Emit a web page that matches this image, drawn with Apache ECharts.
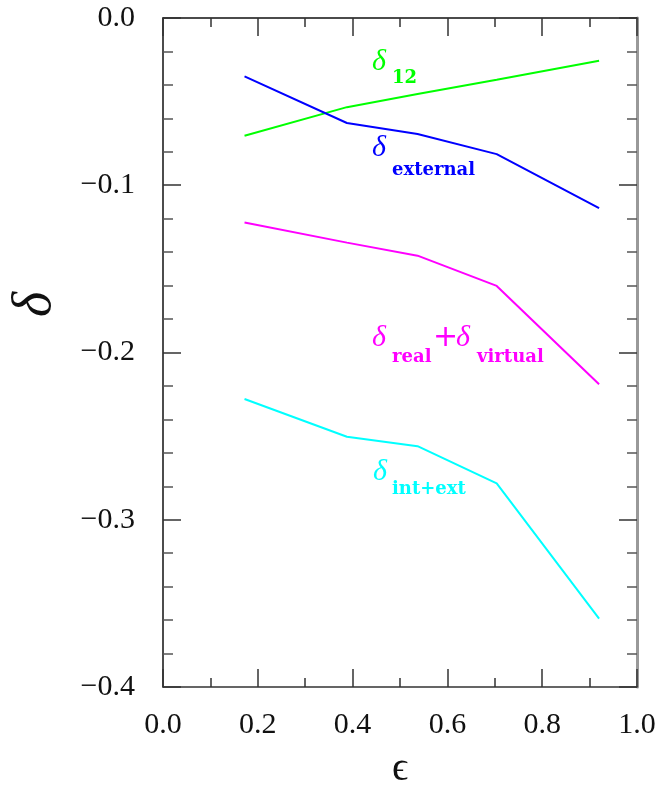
<!DOCTYPE html>
<html>
<head>
<meta charset="utf-8">
<script src="https://cdn.jsdelivr.net/npm/echarts@6/dist/echarts.min.js"></script>
<style>
  html, body { margin: 0; padding: 0; background: #fff; }
  #chart { width: 669px; height: 786px; }
</style>
</head>
<body>
<div id="chart"></div>
<script>
// epsilon sample points shared by every curve
const epsilon = [0.172, 0.388, 0.537, 0.704, 0.920];

// correction curves
const delta12          = [-0.0704, -0.0533, -0.0455, -0.0369, -0.0256];
const deltaExternal    = [-0.0349, -0.0628, -0.0694, -0.0814, -0.1137];
const deltaRealVirtual = [-0.1223, -0.1343, -0.1421, -0.1602, -0.2190];
const deltaIntExt      = [-0.2278, -0.2504, -0.2560, -0.2783, -0.3591];

// tick labels
const xTickValues = [0.0, 0.2, 0.4, 0.6, 0.8, 1.0];
const yTickValues = [0.0, -0.1, -0.2, -0.3, -0.4];

const serif = '"Liberation Serif", "Times New Roman", serif';
const boldSerif = '"DejaVu Serif", serif';

const xStep = xTickValues[1] - xTickValues[0];
const yStep = yTickValues[0] - yTickValues[1];
const xMin = Math.min(...xTickValues), xMax = Math.max(...xTickValues);
const yMin = Math.min(...yTickValues), yMax = Math.max(...yTickValues);

function fmtY(v) {
  if (Math.abs(v) < 1e-9) return '0.0';
  return (v < 0 ? '\u2212' : '') + Math.abs(v).toFixed(1);
}

function xAxis(position, withLabels) {
  return {
    type: 'value', position, min: xMin, max: xMax, interval: xStep,
    name: withLabels ? '\u03F5' : '',
    nameLocation: 'middle', nameGap: 62,
    nameTextStyle: { fontFamily: serif, fontSize: 40, color: '#111' },
    axisLine: { show: true, onZero: false, lineStyle: { color: position === 'bottom' ? '#333' : '#111', width: 1.5 } },
    axisTick: { show: true, inside: true, length: 18, lineStyle: { color: '#333', width: 1.5 } },
    minorTick: { show: true, splitNumber: 2, length: 9, lineStyle: { color: '#333', width: 1.5 } },
    axisLabel: { show: withLabels, margin: 23, fontFamily: serif, fontSize: 30, color: '#111',
                 formatter: v => v.toFixed(1) },
    splitLine: { show: false }, minorSplitLine: { show: false }
  };
}

function yAxis(position, withLabels) {
  return {
    type: 'value', position, min: yMin, max: yMax, interval: yStep,
    name: withLabels ? '\u03B4' : '',
    nameLocation: 'middle', nameRotate: 90, nameGap: 100,
    nameTextStyle: { fontFamily: serif, fontStyle: 'italic', fontSize: 54, color: '#111',
                     padding: [0, 0, 0, 96] },
    axisLine: { show: true, onZero: false,
                lineStyle: position === 'left' ? { color: '#111', width: 1.5 } : { color: '#999', width: 3 } },
    axisTick: { show: true, inside: true, length: 18, lineStyle: { color: '#333', width: 1.5 } },
    minorTick: { show: true, splitNumber: 5, length: 10, lineStyle: { color: '#555', width: 1.5 } },
    axisLabel: { show: withLabels, margin: 28, fontFamily: serif, fontSize: 30, color: '#111',
                 formatter: fmtY },
    splitLine: { show: false }, minorSplitLine: { show: false }
  };
}

function curve(name, values, color) {
  return {
    name, type: 'line', xAxisIndex: 0, yAxisIndex: 0,
    data: epsilon.map((e, i) => [e, values[i]]),
    symbol: 'none', showSymbol: false, silent: true, animation: false,
    lineStyle: { color, width: 2 }
  };
}

const chart = echarts.init(document.getElementById('chart'), null, { renderer: 'canvas' });
chart.setOption({
  animation: false,
  backgroundColor: '#fff',
  grid: { left: 163, top: 18, width: 474, height: 669, containLabel: false, outerBoundsMode: 'none' },
  xAxis: [xAxis('bottom', true), xAxis('top', false)],
  yAxis: [yAxis('left', true), yAxis('right', false)],
  series: [
    curve('\u03B412', delta12, '#00ff00'),
    curve('\u03B4external', deltaExternal, '#0000ff'),
    curve('\u03B4real+\u03B4virtual', deltaRealVirtual, '#ff00ff'),
    curve('\u03B4int+ext', deltaIntExt, '#00ffff')
  ]
});

// Curve annotations: anchor = left edge / baseline of the leading delta, in data units.
// Each part: text, kind, horizontal offset (px) from the anchor.
const fonts = {
  sym: { font: 'italic 30px ' + serif, size: 30 },
  sub: { font: 'bold 18px ' + boldSerif, size: 18 },
  op:  { font: '30px "DejaVu Sans", sans-serif', size: 30 }
};
const curveLabels = [
  { color: '#00ff00', at: [0.441, -0.0327], subDrop: 12,
    parts: [['\u03B4', 'sym', 0], ['12', 'sub', 20]] },
  { color: '#0000ff', at: [0.441, -0.0836], subDrop: 19,
    parts: [['\u03B4', 'sym', 0], ['external', 'sub', 20]] },
  { color: '#ff00ff', at: [0.441, -0.1973], subDrop: 15,
    parts: [['\u03B4', 'sym', 0], ['real', 'sub', 20], ['+', 'op', 61],
            ['\u03B4', 'sym', 84], ['virtual', 'sub', 105]] },
  { color: '#00ffff', at: [0.443, -0.2775], subDrop: 13,
    parts: [['\u03B4', 'sym', 0], ['int+ext', 'sub', 19]] }
];

const graphics = [];
curveLabels.forEach(lab => {
  const p = chart.convertToPixel({ gridIndex: 0 }, lab.at);
  lab.parts.forEach(([text, kind, dx]) => {
    const f = fonts[kind];
    const baseline = p[1] + (kind === 'sub' ? lab.subDrop : 0);
    graphics.push({
      type: 'text', silent: true,
      x: p[0] + dx, y: baseline - 0.34 * f.size,
      style: { text, font: f.font, fill: lab.color, align: 'left', verticalAlign: 'middle' }
    });
  });
});
chart.setOption({ graphic: graphics });
</script>
</body>
</html>
